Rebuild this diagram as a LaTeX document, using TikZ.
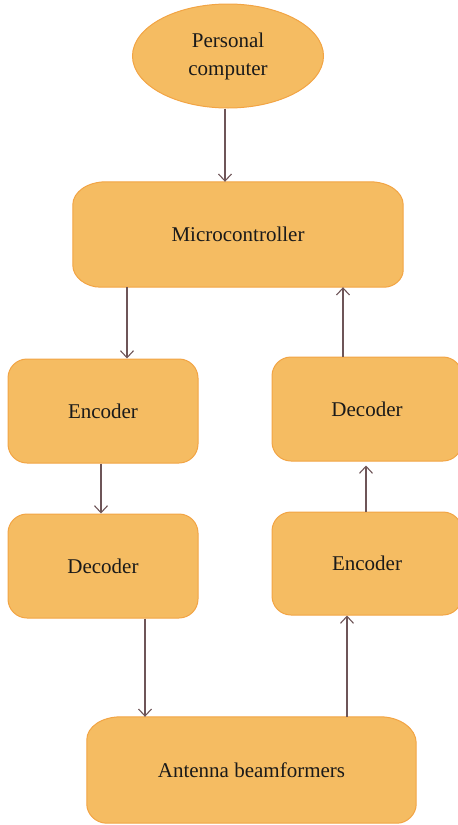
\documentclass[tikz,border=0pt]{standalone}
\usepackage{fontspec}
\setmainfont{Liberation Serif}
\usetikzlibrary{shapes.geometric,arrows.meta,backgrounds,calc}
\definecolor{boxfill}{HTML}{F5BC62}
\definecolor{boxline}{HTML}{F2A444}
\definecolor{arrcol}{HTML}{6E5558}
\definecolor{txtcol}{HTML}{1A1A1A}
\begin{document}
\begin{tikzpicture}[x=1pt,y=-1pt,
  every node/.style={font=\fontsize{21}{28}\selectfont, text=txtcol, inner sep=0pt},
  pcbox/.style={ellipse, draw=boxline, fill=boxfill, line width=1pt, minimum width=191pt, minimum height=104pt, align=center},
  blockbox/.style={rectangle, rounded corners=19pt, draw=boxline, fill=boxfill, line width=1pt, minimum width=190pt, minimum height=104pt},
  widebox/.style={rectangle, minimum width=330pt, minimum height=105pt},
  shapeline/.style={draw=boxline, fill=boxfill, line width=1pt},
  arr/.style={draw=arrcol, line width=1.1pt, -{Straight Barb[length=7pt,width=13pt,line width=1.1pt]}}
]
\useasboundingbox (0,0) rectangle (458,825);
\clip (0,0) rectangle (458,825);

\node[pcbox] (pc) at (228,56) {Personal\\computer};
\node[widebox] (mc) at (238,234.5) {Microcontroller};
\node[blockbox] (encL) at (103,411) {Encoder};
\node[blockbox] (decL) at (103,566) {Decoder};
\node[blockbox] (decR) at (367,409) {Decoder};
\node[blockbox, minimum height=103pt] (encR) at (367,563.5) {Encoder};
\node[widebox, minimum width=329pt, minimum height=106pt] (ant) at (251.5,770) {Antenna beamformers};

\begin{scope}[on background layer]
  % Microcontroller shape
  \path[shapeline]
    ($(mc.north west)+(33,0)$) -- ($(mc.north east)+(-33,0)$)
    .. controls ($(mc.north east)+(-15,0)$) and ($(mc.north east)+(0,10)$) .. ($(mc.north east)+(0,23)$)
    -- ($(mc.south east)+(0,-17)$)
    .. controls ($(mc.south east)+(0,-8)$) and ($(mc.south east)+(-9,0)$) .. ($(mc.south east)+(-19,0)$)
    -- ($(mc.south west)+(28,0)$)
    .. controls ($(mc.south west)+(13,0)$) and ($(mc.south west)+(0,-10)$) .. ($(mc.south west)+(0,-22)$)
    -- ($(mc.north west)+(0,23)$)
    .. controls ($(mc.north west)+(0,10)$) and ($(mc.north west)+(15,0)$) .. cycle;
  % Antenna shape
  \path[shapeline]
    ($(ant.north west)+(34,0)$) -- ($(ant.north east)+(-36,0)$)
    .. controls ($(ant.north east)+(-16,0)$) and ($(ant.north east)+(0,12)$) .. ($(ant.north east)+(0,26)$)
    -- ($(ant.south east)+(0,-19)$)
    .. controls ($(ant.south east)+(0,-9)$) and ($(ant.south east)+(-9,0)$) .. ($(ant.south east)+(-19,0)$)
    -- ($(ant.south west)+(20,0)$)
    .. controls ($(ant.south west)+(9,0)$) and ($(ant.south west)+(0,-9)$) .. ($(ant.south west)+(0,-19)$)
    -- ($(ant.north west)+(0,23)$)
    .. controls ($(ant.north west)+(0,10)$) and ($(ant.north west)+(15,0)$) .. cycle;
\end{scope}

\draw[arr] ([xshift=-3pt]pc.south) -- ([xshift=-3pt]pc.south |- mc.north);
\draw[arr] ([xshift=24pt]encL.north |- mc.south) -- ([xshift=24pt]encL.north);
\draw[arr] ([xshift=-2pt]encL.south) -- ([xshift=-2pt]decL.north);
\draw[arr] ([xshift=42pt]decL.south) -- ([xshift=42pt]decL.south |- ant.north);
\draw[arr] ([xshift=-20pt]encR.south |- ant.north) -- ([xshift=-20pt]encR.south);
\draw[arr, shorten >=4pt] ([xshift=-1pt]encR.north) -- ([xshift=-1pt]decR.south);
\draw[arr] ([xshift=-24pt]decR.north) -- ([xshift=-24pt]decR.north |- mc.south);
\end{tikzpicture}
\end{document}
